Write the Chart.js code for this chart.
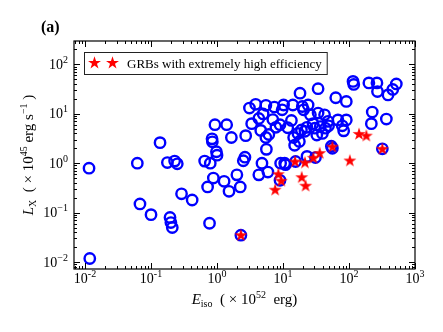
<!DOCTYPE html>
<html>
<head>
<meta charset="utf-8">
<script src="https://cdn.jsdelivr.net/npm/chart.js@4.4.1/dist/chart.umd.min.js"></script>
<style>
  html, body { margin: 0; padding: 0; background: #fff; }
  #wrap { width: 443px; height: 332px; }
</style>
</head>
<body>
<div id="wrap"><canvas id="c" width="443" height="332"></canvas></div>
<script>
// E_iso (1e52 erg) and L_X (1e45 erg/s)
const grbE = [0.0115, 0.0118, 0.062, 0.068, 0.10, 0.137, 0.177, 0.194, 0.20, 0.21,
  0.228, 0.25, 0.29, 0.42, 0.65, 0.72, 0.77, 0.79, 0.84, 0.85,
  0.88, 0.93, 0.98, 1.0, 1.28, 1.4, 1.52, 1.65, 2.0, 2.25,
  2.3, 2.5, 2.65, 2.72, 3.1, 3.35, 3.85, 4.3, 4.3, 4.6,
  4.8, 5.0, 5.5, 5.5, 5.6, 5.9, 6.1, 7.0, 7.4, 9.0,
  9.0, 9.2, 9.7, 10.2, 10.6, 10.9, 11.8, 13.4, 14.1, 14.5,
  15, 15.5, 16.8, 17.7, 18.1, 19, 19.6, 20.5, 21.5, 23.1,
  24, 26, 28.5, 30.3, 31, 34, 34, 36.7, 39.5, 42.6,
  44, 48, 49, 54, 56, 63, 68, 79, 83, 91,
  91, 115, 118, 200, 218, 225, 265, 270, 320, 368,
  390, 460, 521, 7.8, 32.5, 23];
const grbL = [0.79, 0.0118, 1.0, 0.15, 0.091, 2.6, 1.03, 0.080, 0.063, 0.050,
  1.1, 0.97, 0.24, 0.18, 1.1, 0.33, 0.061, 1.0, 3.1, 2.7,
  0.50, 6.0, 1.7, 1.45, 0.43, 6.0, 0.27, 3.3, 0.58, 0.33,
  0.035, 1.12, 1.32, 3.6, 13, 6.3, 15.5, 0.58, 8.0, 4.6,
  1.0, 9.9, 14.8, 3.3, 1.9, 0.66, 3.8, 7.6, 13.6, 0.45,
  6.0, 1.0, 12, 15, 1.0, 0.93, 5.2, 7.3, 15, 3.3,
  2.3, 1.08, 4.0, 2.75, 26, 4.7, 14, 12, 4.4, 1.37,
  15, 9.5, 6.3, 5.1, 1.3, 32, 10.3, 5.5, 4.0, 9.5,
  5.1, 7.0, 5.7, 2.2, 2.0, 21, 7.5, 5.7, 4.5, 17.7,
  7.5, 45, 39, 42, 6.3, 10.8, 42, 28, 1.95, 7.8,
  24, 31, 40, 5.3, 3.7, 5.3];

// GRBs with extremely high efficiency
const highE = [2.3, 7.6, 8.5, 9.4, 15.2, 19.2, 21.5, 22, 28.8, 36, 56, 103, 142, 183, 320];
const highL = [0.035, 0.29, 0.60, 0.44, 1.08, 0.52, 1.03, 0.35, 1.28, 1.6, 2.15, 1.13, 3.9, 3.6, 1.95];

const xDecades = [-2, -1, 0, 1, 2, 3];
const yDecades = [-2, -1, 0, 1, 2];
const legendText = 'GRBs with extremely high efficiency';

const SERIF = '"Liberation Serif", "Times New Roman", serif';

function drawStar(g, cx, cy, r, color) {
  g.beginPath();
  for (let i = 0; i < 10; i++) {
    const a = -Math.PI / 2 + i * Math.PI / 5;
    const rr = i % 2 ? r * 0.382 : r;
    g.lineTo(cx + rr * Math.cos(a), cy + rr * Math.sin(a));
  }
  g.closePath();
  g.fillStyle = color;
  g.fill();
}

function starImg(r, color) {
  const s = Math.ceil(r * 2) + 2;
  const c = document.createElement('canvas');
  c.width = s; c.height = s;
  drawStar(c.getContext('2d'), s / 2, s / 2 + r * 0.05, r, color);
  return c;
}

// draw a run of text pieces (normal / sub / superscript) from x0 along baseline
function drawPieces(ctx, pieces, x0, base) {
  let x = x0;
  pieces.forEach(p => {
    ctx.font = p.f;
    ctx.fillText(p.t, x, base + (p.dy || 0));
    x += ctx.measureText(p.t).width;
  });
}
function piecesWidth(ctx, pieces) {
  return pieces.reduce((w, p) => { ctx.font = p.f; return w + ctx.measureText(p.t).width; }, 0);
}

function powLabel(ctx, exp, minus) {
  return [
    { t: '10', f: '14px ' + SERIF },
    { t: String(exp).replace('-', minus), f: '10px ' + SERIF, dy: -6 }
  ];
}

const axisDecor = {
  id: 'axisDecor',
  afterDraw(chart) {
    const { ctx, chartArea: a, scales: { x, y } } = chart;
    ctx.save();
    ctx.fillStyle = '#000';
    ctx.strokeStyle = '#000';

    // inward ticks on all four sides
    ctx.lineWidth = 1;
    ctx.beginPath();
    for (let d = -3; d <= 3; d++) {
      for (let m = 1; m <= 9; m++) {
        const v = m * Math.pow(10, d);
        const len = m === 1 ? 6 : 3;
        if (v >= x.min && v <= x.max * 1.0001) {
          const px = Math.round(x.getPixelForValue(v)) + 0.5;
          ctx.moveTo(px, a.bottom); ctx.lineTo(px, a.bottom - len);
          ctx.moveTo(px, a.top); ctx.lineTo(px, a.top + len);
        }
        if (v >= y.min && v <= y.max) {
          const py = Math.round(y.getPixelForValue(v)) + 0.5;
          ctx.moveTo(a.left, py); ctx.lineTo(a.left + len, py);
          ctx.moveTo(a.right, py); ctx.lineTo(a.right - len, py);
        }
      }
    }
    ctx.stroke();

    // frame
    ctx.lineWidth = 1.2;
    ctx.strokeRect(a.left, a.top, a.right - a.left, a.bottom - a.top);

    // tick labels
    ctx.textBaseline = 'alphabetic';
    ctx.textAlign = 'left';
    xDecades.forEach(d => {
      const px = x.getPixelForValue(Math.pow(10, d));
      const p = powLabel(ctx, d, '-');
      drawPieces(ctx, p, px - piecesWidth(ctx, p) / 2, a.bottom + 14);
    });
    yDecades.forEach(d => {
      const py = y.getPixelForValue(Math.pow(10, d));
      const p = powLabel(ctx, d, '\u2212');
      drawPieces(ctx, p, a.left - 6 - piecesWidth(ctx, p), py + 4.5);
    });

    // x axis title
    const xt = [
      { t: 'E', f: 'italic 15px ' + SERIF },
      { t: 'iso', f: '10px ' + SERIF, dy: 3 },
      { t: '  ( \u00d7 10', f: '15px ' + SERIF },
      { t: '52', f: '10px ' + SERIF, dy: -6 },
      { t: '  erg)', f: '15px ' + SERIF }
    ];
    drawPieces(ctx, xt, (a.left + a.right) / 2 - piecesWidth(ctx, xt) / 2, 304);

    // y axis title
    const yt = [
      { t: 'L', f: 'italic 15px ' + SERIF },
      { t: 'X', f: '10px ' + SERIF, dy: 3 },
      { t: '  ( \u00d7 10', f: '15px ' + SERIF },
      { t: '45', f: '10px ' + SERIF, dy: -6 },
      { t: ' erg s', f: '15px ' + SERIF },
      { t: '\u22121', f: '10px ' + SERIF, dy: -6 },
      { t: ' )', f: '15px ' + SERIF }
    ];
    ctx.save();
    ctx.translate(33, (a.top + a.bottom) / 2);
    ctx.rotate(-Math.PI / 2);
    drawPieces(ctx, yt, -piecesWidth(ctx, yt) / 2, 0);
    ctx.restore();

    // panel label
    ctx.font = 'bold 16px ' + SERIF;
    ctx.fillText('(a)', 41, 32);

    // legend
    const lx = a.left + 10, ly = a.top + 11;
    ctx.font = '13px ' + SERIF;
    const tw = ctx.measureText(legendText).width;
    ctx.fillStyle = '#fff';
    ctx.fillRect(lx, ly, 42 + tw + 6, 22);
    ctx.strokeStyle = '#222';
    ctx.lineWidth = 1;
    ctx.strokeRect(lx + 0.5, ly + 0.5, 42 + tw + 6, 22);
    drawStar(ctx, lx + 10.5, ly + 11, 6.8, '#ff0000');
    drawStar(ctx, lx + 28.5, ly + 11, 6.8, '#ff0000');
    ctx.fillStyle = '#000';
    ctx.fillText(legendText, lx + 43, ly + 15.5);

    ctx.restore();
  }
};

const grbPts = grbE.map((e, i) => ({ x: e, y: grbL[i] }));
const highPts = highE.map((e, i) => ({ x: e, y: highL[i] }));

new Chart(document.getElementById('c'), {
  type: 'scatter',
  data: {
    datasets: [
      {
        label: legendText,
        data: highPts,
        pointStyle: starImg(6.8, '#ff0000'),
        pointRadius: 6,
        order: 0
      },
      {
        label: 'GRBs',
        data: grbPts,
        pointStyle: 'circle',
        pointRadius: 5.2,
        borderWidth: 2.4,
        borderColor: '#0000ff',
        backgroundColor: 'rgba(0,0,0,0)',
        order: 1
      }
    ]
  },
  options: {
    responsive: false,
    animation: false,
    events: [],
    layout: { padding: { left: 0, right: 28, top: 41, bottom: 0 } },
    plugins: { legend: { display: false }, tooltip: { enabled: false } },
    scales: {
      x: {
        type: 'logarithmic',
        min: Math.pow(10, -2.167),
        max: 1000,
        grid: { display: false },
        border: { display: false },
        ticks: { display: false },
        afterFit: s => { s.height = 63; }
      },
      y: {
        type: 'logarithmic',
        min: Math.pow(10, -2.14),
        max: Math.pow(10, 2.47),
        grid: { display: false },
        border: { display: false },
        ticks: { display: false },
        afterFit: s => { s.width = 74; }
      }
    }
  },
  plugins: [axisDecor]
});
</script>
</body>
</html>
